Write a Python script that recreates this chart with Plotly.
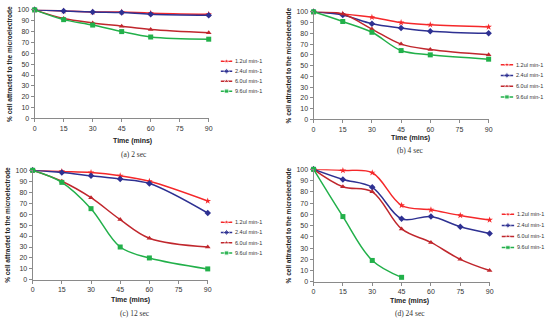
import plotly.graph_objects as go

# ---------------- data ----------------
series_names = ["1.2ul min-1", "2.4ul min-1", "6.0ul min-1", "9.6ul min-1"]
x_abc = [0, 15, 30, 45, 60, 90]
x_d = [0, 15, 30, 45, 60, 75, 90]
x_d_96 = [0, 15, 30, 45]

a_12 = [100, 99, 98, 98, 97, 96]
a_24 = [100, 99, 98, 97.5, 96, 95]
a_60 = [100, 92, 88, 85, 82, 79]
a_96 = [100, 91, 86, 80, 75, 73]

b_12 = [100, 98, 95, 90, 88, 86]
b_24 = [100, 97, 89, 85, 82, 80]
b_60 = [100, 98, 84, 70, 65, 60]
b_96 = [100, 91, 81, 64, 60, 56]

c_12 = [100, 99, 98, 95, 90, 72]
c_24 = [100, 98, 95, 92, 88, 61]
c_60 = [100, 90, 75, 55, 38, 30]
c_96 = [100, 89, 65, 30, 20, 10]

d_12 = [100, 99, 97, 68, 64, 59, 55]
d_24 = [100, 91, 84, 56, 58, 49, 43]
d_60 = [100, 84.5, 80, 47, 35, 20, 10]
d_96 = [100, 58, 19, 4]

x_ticks = [0, 15, 30, 45, 60, 75, 90]
y_ticks = list(range(0, 101, 10))
captions = ["(a) 2 sec", "(b) 4 sec", "(c) 12 sec", "(d) 24 sec"]
x_title = "Time (mins)"
y_title = "% cell attracted to the microelectrode"

# ---------------- styles / layout (pixels) ----------------
colors = ["#F5282A", "#2E3192", "#C0272D", "#22B04A"]
symbols = ["star", "diamond", "triangle-up", "square"]
W, H = 550, 322

panels = [
    dict(x=[x_abc] * 4, y=[a_12, a_24, a_60, a_96], px=(33, 209), py=(6, 117),
         key=(221, 233, 235, 58.5, 10.2), tt=(132, 140), cap=(133, 154)),
    dict(x=[x_abc] * 4, y=[b_12, b_24, b_60, b_96], px=(315, 492), py=(8, 118),
         key=(504, 517, 519, 62, 11), tt=(413, 137), cap=(412, 150)),
    dict(x=[x_abc] * 4, y=[c_12, c_24, c_60, c_96], px=(31, 208), py=(170, 282),
         key=(221, 233, 235, 223, 10.5), tt=(130, 303), cap=(134, 316)),
    dict(x=[x_d, x_d, x_d, x_d_96], y=[d_12, d_24, d_60, d_96], px=(315, 493), py=(169, 284),
         key=(505, 518, 520, 215, 11.3), tt=(412, 304), cap=(413, 316)),
]

fig = go.Figure()
annotations = []
layout = dict(width=W, height=H, margin=dict(l=0, r=0, t=0, b=0),
              paper_bgcolor="white", plot_bgcolor="white", showlegend=False,
              hovermode=False,
              font=dict(family="Liberation Sans, Arial, sans-serif", color="#222"))

for i, p in enumerate(panels):
    n = "" if i == 0 else str(i + 1)
    xa, ya = "x" + n, "y" + n
    for k in range(4):
        fig.add_trace(go.Scatter(
            x=p["x"][k], y=p["y"][k], name=series_names[k], mode="lines+markers",
            line=dict(color=colors[k], width=1.5, shape="spline", smoothing=1),
            marker=dict(symbol=symbols[k], size=5, color=colors[k]),
            xaxis=xa, yaxis=ya, cliponaxis=False))
    layout["xaxis" + n] = dict(
        domain=[p["px"][0] / W, p["px"][1] / W], range=[0, 90], anchor=ya,
        tickvals=x_ticks, showgrid=False, zeroline=False, showline=True,
        linecolor="#8a8a8a", linewidth=1, ticks="outside", ticklen=3,
        tickcolor="#8a8a8a", tickfont=dict(size=7, color="#333"))
    layout["yaxis" + n] = dict(
        domain=[1 - p["py"][1] / H, 1 - p["py"][0] / H], range=[0, 100], anchor=xa,
        tickvals=y_ticks, showgrid=False, zeroline=False, showline=True,
        linecolor="#8a8a8a", linewidth=1, ticks="outside", ticklen=3,
        tickcolor="#8a8a8a", tickfont=dict(size=7, color="#333"),
        title=dict(text="<b>" + y_title + "</b>", font=dict(size=6.5, color="#222"),
                   standoff=4))

    # legend box: key samples on a small hidden axis pair, labels as text
    lx0, lx1, tx, row0, gap = p["key"]
    m = str(5 + i)
    layout["xaxis" + m] = dict(domain=[lx0 / W, lx1 / W], range=[0, 1], visible=False,
                               anchor="y" + m, fixedrange=True)
    layout["yaxis" + m] = dict(domain=[1 - (row0 + 3.5 * gap) / H, 1 - (row0 - 0.5 * gap) / H],
                               range=[3.5, -0.5], visible=False, anchor="x" + m, fixedrange=True)
    for k in range(4):
        fig.add_trace(go.Scatter(
            x=[0, 0.5, 1], y=[k, k, k], mode="lines+markers", hoverinfo="skip",
            line=dict(color=colors[k], width=1.5),
            marker=dict(symbol=symbols[k], size=[0, 4.5, 0], color=colors[k]),
            xaxis="x" + m, yaxis="y" + m, cliponaxis=False, showlegend=False))
        annotations.append(dict(text=series_names[k], x=tx / W, y=1 - (row0 + k * gap) / H,
                                xref="paper", yref="paper", xanchor="left", yanchor="middle",
                                showarrow=False, borderpad=0,
                                font=dict(size=5.5, color="#333")))

    annotations.append(dict(text="<b>" + x_title + "</b>", x=p["tt"][0] / W,
                            y=1 - p["tt"][1] / H, xref="paper", yref="paper",
                            xanchor="center", yanchor="middle", borderpad=0,
                            showarrow=False, font=dict(size=7, color="#222")))
    annotations.append(dict(text=captions[i], x=p["cap"][0] / W, y=1 - p["cap"][1] / H,
                            xref="paper", yref="paper", showarrow=False,
                            xanchor="center", yanchor="middle", borderpad=0,
                            font=dict(size=7.5, family="Liberation Serif, serif", color="#333")))

layout["annotations"] = annotations
fig.update_layout(**layout)
fig.write_html("out.html", config={"displayModeBar": False, "staticPlot": True},
               post_script="document.body.style.margin='0px';")
